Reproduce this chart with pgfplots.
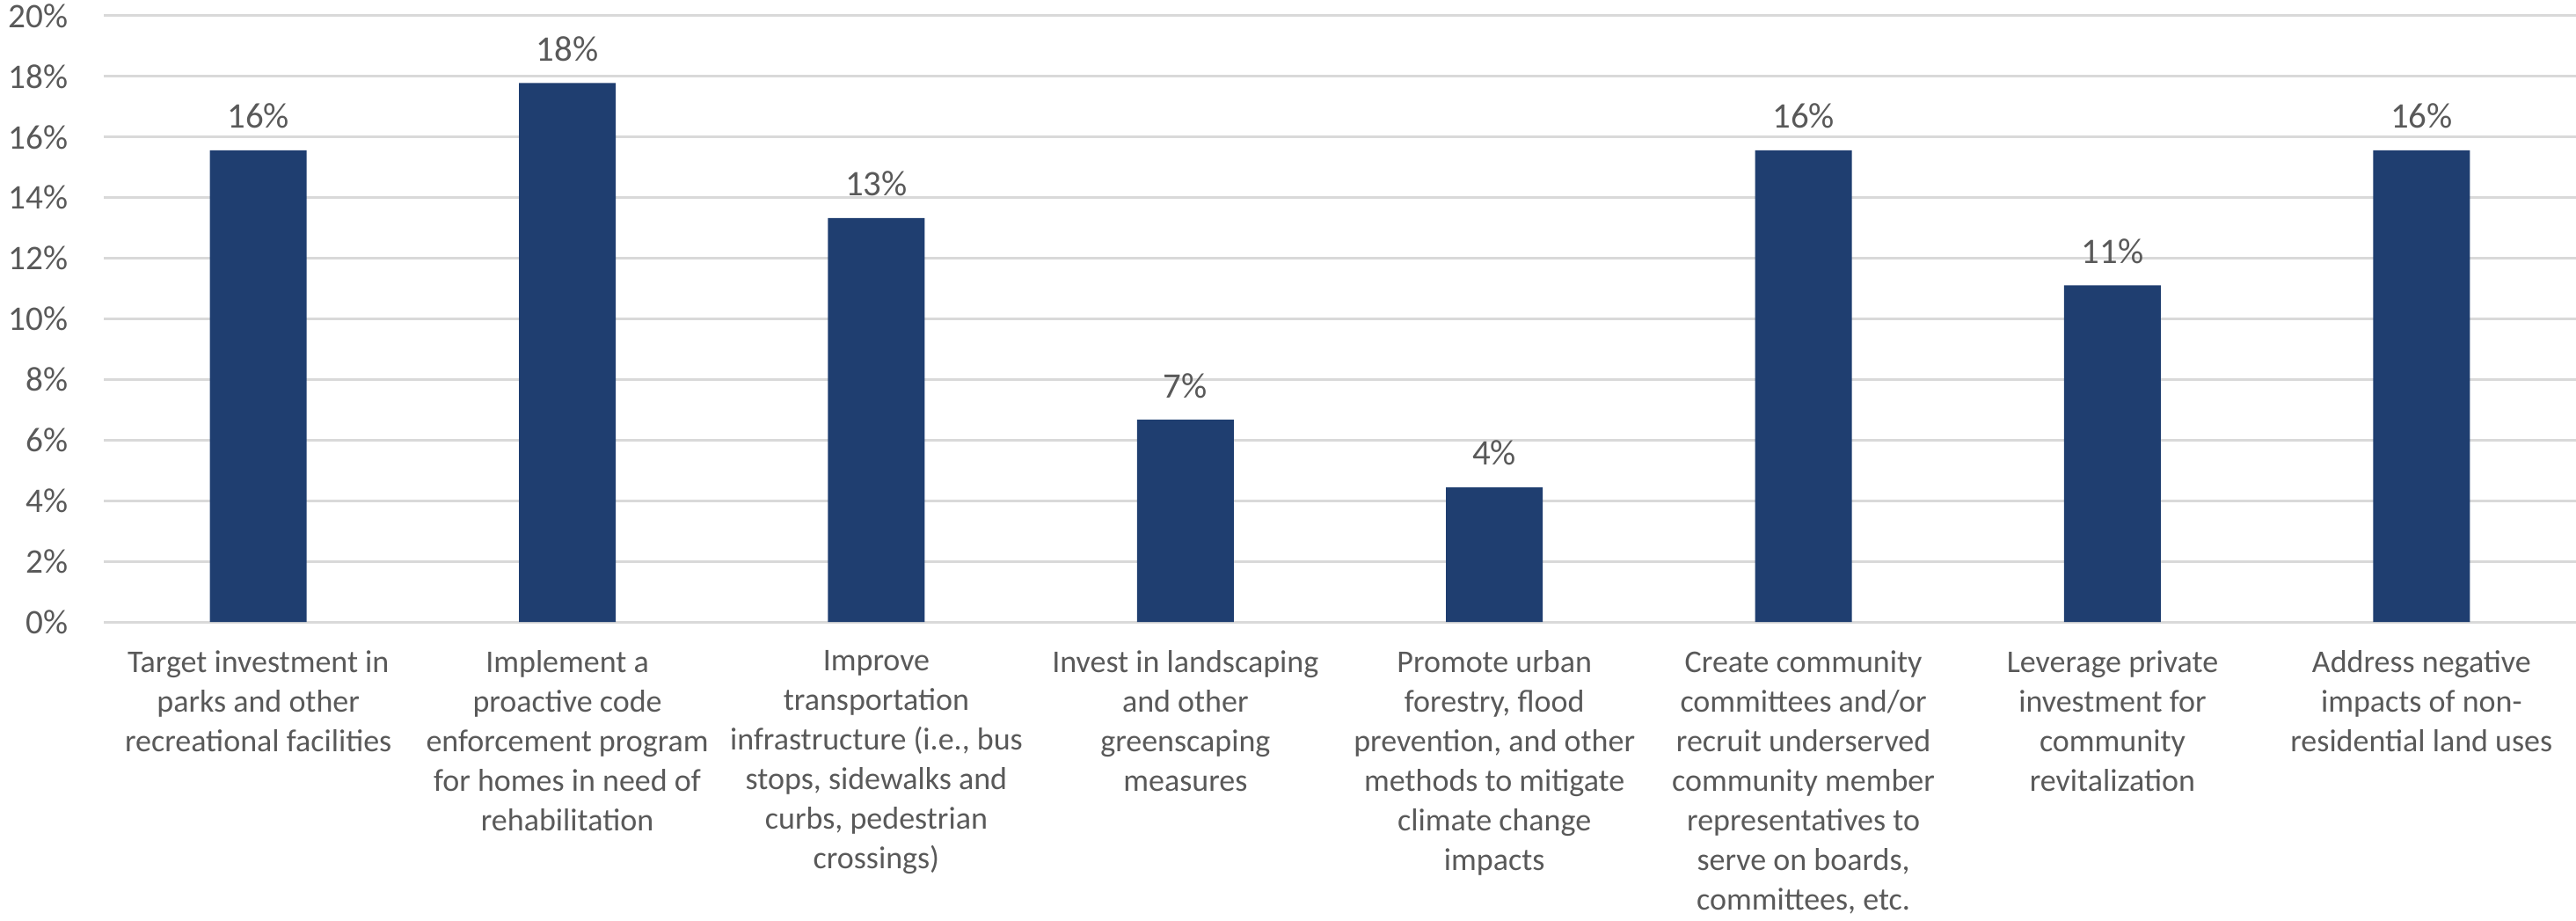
\documentclass[border=0pt]{standalone}
\usepackage{pgfplots}
\pgfplotsset{compat=1.18}
\usepackage{fontspec}
\setmainfont{Carlito}
\definecolor{barblue}{HTML}{1F3E70}
\definecolor{txtgray}{HTML}{595959}
\definecolor{gridgray}{HTML}{D9D9D9}
\begin{document}
\begin{tikzpicture}
\useasboundingbox (-29.5pt,-85pt) rectangle (702.75pt,176.75pt);
\begin{axis}[
  at={(0,0)}, anchor=south west,
  scale only axis,
  width=702.75pt, height=172.25pt,
  xmin=-0.5, xmax=7.5,
  ymin=0, ymax=20,
  ytick={0,2,...,20},
  yticklabel={\pgfmathprintnumber{\tick}\%},
  /pgf/number format/assume math mode=true,
  xtick={0,...,7},
  xticklabels={
    {Target investment in\\parks and other\\recreational facilities},
    {Implement a\\proactive code\\enforcement program\\for homes in need of\\rehabilitation},
    {Improve\\transportation\\infrastructure (i.e., bus\\stops, sidewalks and\\curbs, pedestrian\\crossings)},
    {Invest in landscaping\\and other\\greenscaping\\measures},
    {Promote urban\\forestry, flood\\prevention, and other\\methods to mitigate\\climate change\\impacts},
    {Create community\\committees and/or\\recruit underserved\\community member\\representatives to\\serve on boards,\\committees, etc.},
    {Leverage private\\investment for\\community\\revitalization},
    {Address negative\\impacts of non-\\residential land uses}
  },
  major tick length=0pt,
  axis line style={draw=none},
  ymajorgrids,
  major grid style={draw=gridgray, line width=0.75pt},
  yticklabel style={anchor=east, inner sep=0pt, xshift=-10pt, font=\fontsize{9.8}{11}\selectfont, text=txtgray},
  xticklabel style={anchor=north, inner sep=0pt, yshift=-8pt, align=center, font=\fontsize{9}{11.25}\selectfont, text=txtgray},
  ybar, bar width=27.5pt,
  nodes near coords={\pgfmathprintnumber[fixed,precision=0]{\pgfplotspointmeta}\%},
  nodes near coords style={font=\fontsize{10.2}{12}\selectfont, text=txtgray, anchor=south, inner sep=0pt, yshift=6pt, /pgf/number format/assume math mode=true},
]
\addplot[fill=barblue, draw=none] coordinates {
(0,15.56) (1,17.78) (2,13.33) (3,6.67) (4,4.44) (5,15.56) (6,11.11) (7,15.56)
};
\end{axis}
\end{tikzpicture}
\end{document}
